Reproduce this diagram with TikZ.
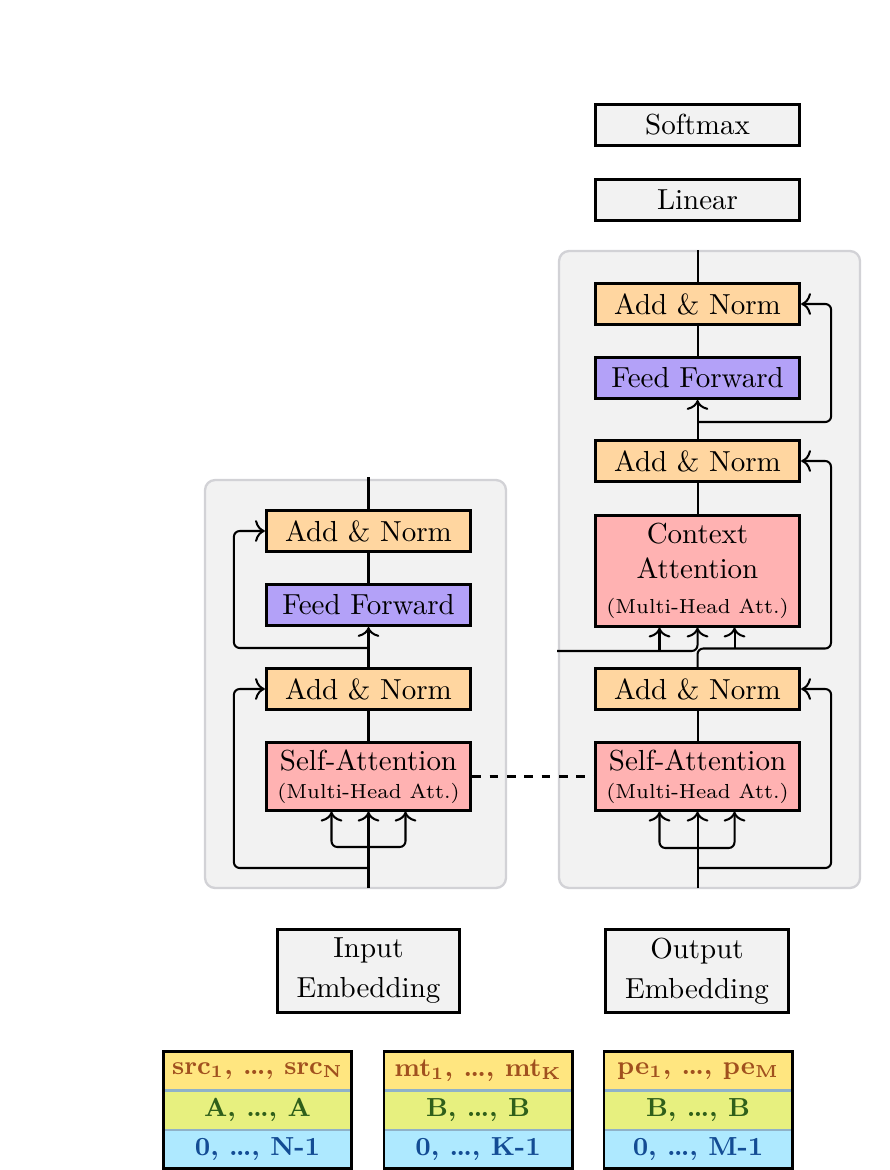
\documentclass[tikz,border=0pt]{standalone}
\usepackage{tikz}
\usetikzlibrary{calc,positioning,arrows.meta}
\definecolor{boxgrey}{HTML}{F2F2F2}
\definecolor{layerrim}{HTML}{D2D2D6}
\definecolor{normpeach}{HTML}{FFD6A0}
\definecolor{ffviolet}{HTML}{B3A1F8}
\definecolor{attpink}{HTML}{FFB2B2}
\definecolor{tokyellow}{HTML}{FFE680}
\definecolor{segyellow}{HTML}{E7F07F}
\definecolor{posblue}{HTML}{AEE9FF}
\definecolor{tokbrown}{HTML}{A0501E}
\definecolor{seggreen}{HTML}{2F5F1A}
\definecolor{posink}{HTML}{134C94}
\definecolor{rowrule}{HTML}{8FB2C8}
\tikzset{
  tbox/.style={draw=black, line width=1pt, minimum width=70.5pt, minimum height=14.2pt,
               inner sep=0pt, align=center, font=\normalsize},
  lnorm/.style={tbox, fill=normpeach},
  ffwd/.style={tbox, fill=ffviolet},
  attn/.style={tbox, fill=attpink, minimum height=23.3pt},
  plainbox/.style={tbox, fill=boxgrey},
  embbox/.style={tbox, fill=boxgrey, minimum width=63pt, minimum height=28.5pt},
  layerbg/.style={draw=layerrim, fill=boxgrey, line width=0.8pt, rounded corners=3.5pt},
  conn/.style={line width=0.7pt, draw=black},
  arr/.style={conn, -{To[length=3.4pt,width=7.5pt]}},
  res/.style={arr, rounded corners=2pt},
  trow/.style={draw=rowrule, line width=0.4pt, minimum width=64.5pt, minimum height=13.1pt,
               inner sep=0pt, font=\small\bfseries},
  tframe/.style={line width=1pt, draw=black}
}
\newcommand{\mha}{{\scriptsize (Multi-Head Att.)}}

\begin{document}
\begin{tikzpicture}[x=0.345pt, y=-0.345pt]
  \useasboundingbox (0,0) rectangle (889,1170);
  % layer backgrounds
  \draw[layerbg] (205,480) rectangle (506,888);
  \draw[layerbg] (559,251) rectangle (860,888);

  % encoder
  \node[attn]  (esa)  at (368.5,776.5) {Self-Attention\\[-2.3pt]\mha};
  \node[lnorm] (ean1) at (368.5,689) {Add \& Norm};
  \node[ffwd]  (eff)  at (368.5,605) {Feed Forward};
  \node[lnorm] (ean2) at (368.5,531) {Add \& Norm};
  \node[embbox] (inemb) at (368.5,971) {Input\\[1.8pt]Embedding};

  % decoder
  \node[plainbox] (smax) at (697.5,125) {Softmax};
  \node[plainbox] (lin)  at (697.5,200) {Linear};
  \node[lnorm] (dan3) at (697.5,304) {Add \& Norm};
  \node[ffwd]  (dff)  at (697.5,378) {Feed Forward};
  \node[lnorm] (dan2) at (697.5,461) {Add \& Norm};
  \node[attn, minimum height=38.1pt] (dctx) at (697.5,571) {Context\\Attention\\\mha};
  \node[lnorm] (dan1) at (697.5,689) {Add \& Norm};
  \node[attn]  (dsa)  at (697.5,776.5) {Self-Attention\\[-2.3pt]\mha};
  \node[embbox] (outemb) at (697,971) {Output\\[1.8pt]Embedding};

  % encoder connectors
  \coordinate (encin) at (368.5,888);
  \coordinate (ebr)   at (368.5,847);
  \coordinate (eres1) at (368.5,868);
  \coordinate (eres2) at (368.5,648);
  \coordinate (encout) at (368.5,477);
  \draw[arr] (encin) -- (esa.south);
  \draw[res] (ebr) -| ($(esa.south)+(-37,0)$);
  \draw[res] (ebr) -| ($(esa.south)+(37,0)$);
  \draw[res] (eres1) -| ($(ean1.west)+(-31,0)$) -- (ean1.west);
  \draw[conn] (esa.north) -- (ean1.south);
  \draw[arr] (ean1.north) -- (eff.south);
  \draw[res] (eres2) -| ($(ean2.west)+(-31,0)$) -- (ean2.west);
  \draw[conn] (eff.north) -- (ean2.south);
  \draw[conn] (ean2.north) -- (encout);

  % decoder connectors
  \coordinate (decin) at (697.5,888);
  \coordinate (dbr)   at (697.5,848);
  \coordinate (dres1) at (697.5,868);
  \coordinate (dres2) at (831,648.5);
  \coordinate (dres3) at (697.5,422);
  \coordinate (mem)   at (557,651);
  \coordinate (decout) at (697.5,250);
  \draw[arr] (decin) -- (dsa.south);
  \draw[res] (dbr) -| ($(dsa.south)+(-38,0)$);
  \draw[res] (dbr) -| ($(dsa.south)+(37,0)$);
  \draw[res] (dres1) -| ($(dan1.east)+(30,0)$) -- (dan1.east);
  \draw[conn] (dsa.north) -- (dan1.south);
  \draw[res] (dan1.north) |- (dres2) |- (dan2.east);
  \draw[arr] ($(dctx.south)+(37,20.5)$) -- ($(dctx.south)+(37,0)$);
  \draw[res] (mem) -| (dctx.south);
  \draw[arr] ($(dctx.south)+(-38,23)$) -- ($(dctx.south)+(-38,0)$);
  \draw[conn] (dctx.north) -- (dan2.south);
  \draw[arr] (dan2.north) -- (dff.south);
  \draw[res] (dres3) -| ($(dan3.east)+(30,0)$) -- (dan3.east);
  \draw[conn] (dff.north) -- (dan3.south);
  \draw[conn] (dan3.north) -- (decout);

  % shared self-attention link
  \draw[conn, dashed] (esa.east) -- (dsa.west);

  % input tables
  \node[trow, fill=tokyellow, text=tokbrown] (srctok) at (257.5,1071)
       {src\textsubscript{1}, …, src\textsubscript{N}};
  \node[trow, fill=segyellow, text=seggreen, below=0pt of srctok] (srcseg) {A, …, A};
  \node[trow, fill=posblue, text=posink, below=0pt of srcseg] (srcpos) {0, …, N-1};
  \draw[tframe] (srctok.north west) rectangle (srcpos.south east);

  \node[trow, fill=tokyellow, text=tokbrown] (mttok) at (478,1071)
       {mt\textsubscript{1}, …, mt\textsubscript{K}};
  \node[trow, fill=segyellow, text=seggreen, below=0pt of mttok] (mtseg) {B, …, B};
  \node[trow, fill=posblue, text=posink, below=0pt of mtseg] (mtpos) {0, …, K-1};
  \draw[tframe] (mttok.north west) rectangle (mtpos.south east);

  \node[trow, fill=tokyellow, text=tokbrown] (petok) at (698,1071)
       {pe\textsubscript{1}, …, pe\textsubscript{M}};
  \node[trow, fill=segyellow, text=seggreen, below=0pt of petok] (peseg) {B, …, B};
  \node[trow, fill=posblue, text=posink, below=0pt of peseg] (pepos) {0, …, M-1};
  \draw[tframe] (petok.north west) rectangle (pepos.south east);
\end{tikzpicture}
\end{document}
